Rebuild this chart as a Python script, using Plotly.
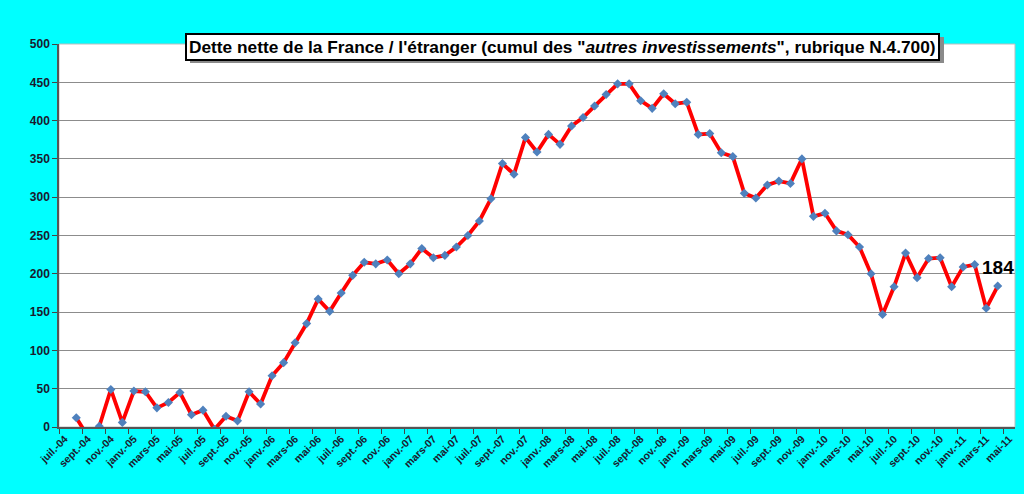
import plotly.graph_objects as go

# Months (juil.-04 .. mai-11), one category per month
months = ['janv.', 'févr.', 'mars', 'avr.', 'mai', 'juin',
          'juil.', 'août', 'sept.', 'oct.', 'nov.', 'déc.']
categories = []
for k in range(83):
    m = (6 + k) % 12
    y = 4 + (6 + k) // 12
    categories.append('%s-%02d' % (months[m], y))

# Net debt (bn EUR); first and last month empty
values = [None,
          12, -12, 1, 49, 6, 47, 46, 25, 32, 45,
          16, 22, -3, 14, 8, 46, 30, 67, 84, 110,
          135, 167, 151, 175, 198, 215, 213, 218, 200, 213,
          233, 221, 224, 235, 250, 269, 298, 344, 330, 378,
          359, 382, 369, 393, 404, 419, 434, 448, 448, 426,
          416, 435, 422, 424, 382, 383, 358, 353, 305, 299,
          316, 321, 318, 350, 275, 279, 256, 251, 235, 200,
          147, 183, 227, 195, 220, 221, 183, 209, 212, 155,
          184,
          None]

last_idx = 81

title = ('<b>Dette nette de la France / l\'étranger (cumul des "<i>autres investissements</i>",'
         ' rubrique N.4.700)</b>')

fig = go.Figure()

fig.add_trace(go.Scatter(
    x=categories,
    y=values,
    mode='lines+markers',
    line=dict(color='#FF0000', width=3.8),
    marker=dict(symbol='diamond', size=7, color='#4F81BD'),
    connectgaps=False,
    showlegend=False,
))

fig.add_annotation(
    x=categories[last_idx], y=values[last_idx],
    text='<b>%d</b>' % values[last_idx],
    showarrow=False, yanchor='bottom', yshift=6,
    font=dict(family='Liberation Sans, Arial', size=19, color='black'),
)

fig.add_annotation(
    xref='paper', yref='paper', x=0.527, y=0.993,
    xanchor='center', yanchor='middle',
    text=title, showarrow=False,
    bgcolor='white', bordercolor='black', borderwidth=2, borderpad=2,
    font=dict(family='Liberation Sans, Arial', size=17.3, color='black'),
)

# plot frame + drop shadow behind the title box
fig.update_layout(shapes=[
    dict(type='rect', xref='paper', yref='paper', x0=0, y0=0, x1=1, y1=1,
         line=dict(color='#bdbdbd', width=1), layer='below'),
    dict(type='rect', xref='paper', yref='paper',
         x0=(190 - 59) / 956, x1=(944 - 59) / 956,
         y0=(427 - 63) / 383, y1=(427 - 37) / 383,
         line=dict(width=0), fillcolor='#8a8a8a', layer='above'),
])

fig.update_layout(
    width=1024,
    height=494,
    margin=dict(l=59, r=9, t=44, b=67),
    paper_bgcolor='#00FFFF',
    plot_bgcolor='white',
    xaxis=dict(
        type='category',
        range=[-0.5, 82.5],
        tickmode='linear', tick0=0, dtick=2,
        tickson='boundaries',
        ticks='outside', ticklen=5, tickcolor='#444444',
        tickangle=-45,
        tickprefix='<b>', ticksuffix='</b>',
        tickfont=dict(family='Liberation Sans, Arial', size=10.5, color='#1a1a2e'),
        showgrid=False,
        showline=True, linecolor='#555555', linewidth=1.5,
    ),
    yaxis=dict(
        range=[0, 500],
        dtick=50,
        ticks='outside', ticklen=5, tickcolor='#444444',
        tickprefix='<b>', ticksuffix='</b>',
        tickfont=dict(family='Liberation Sans, Arial', size=12, color='#1a1a2e'),
        showgrid=True, gridcolor='#8c8c8c', gridwidth=1,
        showline=True, linecolor='#555555', linewidth=1.5,
        zeroline=False,
    ),
)

fig.write_html('out.html', config={'displayModeBar': False},
               post_script="document.body.style.margin='0';")
